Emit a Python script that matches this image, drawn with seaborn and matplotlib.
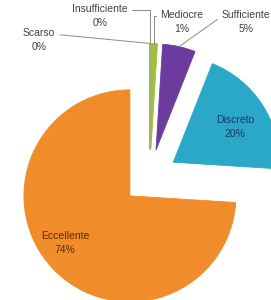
import numpy as np
import matplotlib
matplotlib.use("Agg")
import matplotlib.pyplot as plt
import seaborn as sns

# dati del grafico
categorie = ["Scarso", "Insufficiente", "Mediocre", "Sufficiente", "Discreto", "Eccellente"]
percentuali = [0, 0, 1, 5, 20, 74]
colori = ["#4f81bd", "#d0503a", "#9cc23c", "#6b3c9e", "#2ba8c8", "#f08c2a"]

sns.set_theme(style="white")
plt.rcParams["font.family"] = ["Liberation Sans", "DejaVu Sans"]

fig = plt.figure(figsize=(2.71, 3.0), dpi=100)
ax = fig.add_axes([0, 0, 1, 1])

wedges, _ = ax.pie(
    percentuali,
    colors=colori,
    startangle=90,
    counterclock=False,
    explode=[0.26] * len(percentuali),
    radius=1,
)
for w in wedges:
    w.set_edgecolor(w.get_facecolor())
    w.set_linewidth(0.6)

# finestra: centro della torta a (150, 177) px, raggio 106 px
scala = 106
ax.set_xlim(-150 / scala, 121 / scala)
ax.set_ylim(-123 / scala, 177 / scala)
ax.set_aspect("auto")
ax.axis("off")


def punto_esterno(w, r=1.0):
    ang = np.deg2rad((w.theta1 + w.theta2) / 2)
    cx, cy = w.center
    return cx + r * np.cos(ang), cy + r * np.sin(ang)


def px(x, y):
    return (x - 150) / scala, (177 - y) / scala


etichette = [f"{c}\n{p}%" for c, p in zip(categorie, percentuali)]
grigio = "#8a8a8a"
testo = "#404040"
fs = 7.5

# etichette esterne con linee guida
esterne = {
    "Scarso": (px(39, 40), (1.0, 0.74), "arc3"),
    "Insufficiente": (px(100, 16), (1.0, 0.74), "angle,angleA=0,angleB=90,rad=0"),
    "Mediocre": (px(182, 22), (0.0, 0.74), "angle,angleA=180,angleB=90,rad=0"),
    "Sufficiente": (px(246, 22), (0.0, 0.74), "arc3"),
}
for i, cat in enumerate(categorie):
    if cat not in esterne:
        continue
    pos, rel, conn = esterne[cat]
    ax.annotate(
        etichette[i],
        xy=punto_esterno(wedges[i]),
        xytext=pos,
        ha="center", va="center",
        fontsize=fs, color=testo, linespacing=1.45,
        arrowprops=dict(arrowstyle="-", color=grigio, lw=0.7,
                        relpos=rel, connectionstyle=conn,
                        shrinkA=1, shrinkB=0),
    )

# etichette interne
ax.text(*px(235, 127), etichette[4], ha="center", va="center",
        fontsize=fs, color="#17375e", linespacing=1.45)
ax.text(*px(65, 243), etichette[5], ha="center", va="center",
        fontsize=fs, color="#5a2a08", linespacing=1.45)

fig.savefig("out.png", dpi=100)
